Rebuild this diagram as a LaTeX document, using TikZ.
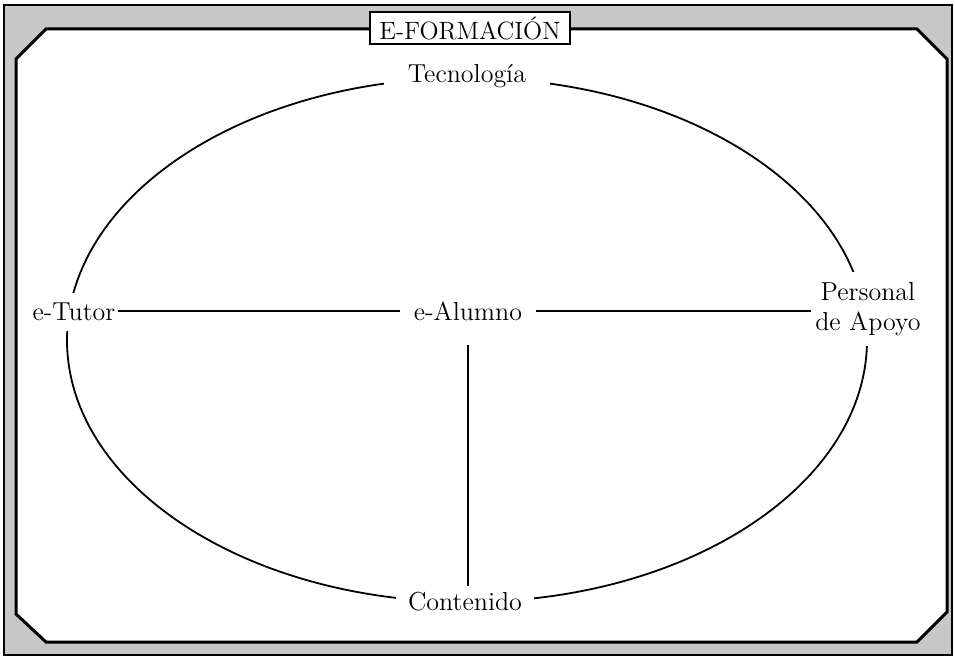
\documentclass[tikz,border=0pt]{standalone}
\usetikzlibrary{positioning}

\begin{document}
\begin{tikzpicture}[x=0.5pt,y=-0.5pt,
 t/.style={fill=white,align=center,inner xsep=6pt,inner ysep=3pt,font=\fontsize{13}{15}\selectfont},
 a/.style={line width=0.9pt}]
 \useasboundingbox (0,0) rectangle (955,658);
 % frame
 \draw[line width=1.4pt,fill=black!22] (4,5) rectangle (952,655);
 \draw[line width=1.5pt,fill=white] (46,29) -- (917,29) -- (947,59) -- (947,612) -- (917,642)
   -- (46,642) -- (16,614) -- (16,59) -- cycle;
 \node[draw,line width=0.8pt,fill=white,minimum width=100pt,minimum height=16pt,inner sep=1pt,
   font=\fontsize{12.5}{14}\selectfont] (title) at (470,28) {E-FORMACIÓN};
 % ring
 \draw[a] (467,340) ellipse [x radius=400,y radius=262];
 \node[t,inner xsep=12pt] (tec) at (467,76) {Tecnología};
 \node[t] (con) at (465,602) {Contenido};
 \node[t,inner xsep=1pt,inner ysep=5pt] (tut) at (74,312) {e-Tutor};
 \node[t,inner xsep=2pt,inner ysep=5pt] (per) at (868,309) {Personal\\de Apoyo};
 \node[t,inner xsep=7pt] (alu) at (468,311) {e-Alumno};
 \draw[a] (alu) -- (alu -| tut.east);
 \draw[a] (alu) -- (alu -| per.west);
 \draw[a,shorten <=9pt] (alu) -- (alu |- con.north);
\end{tikzpicture}
\end{document}
